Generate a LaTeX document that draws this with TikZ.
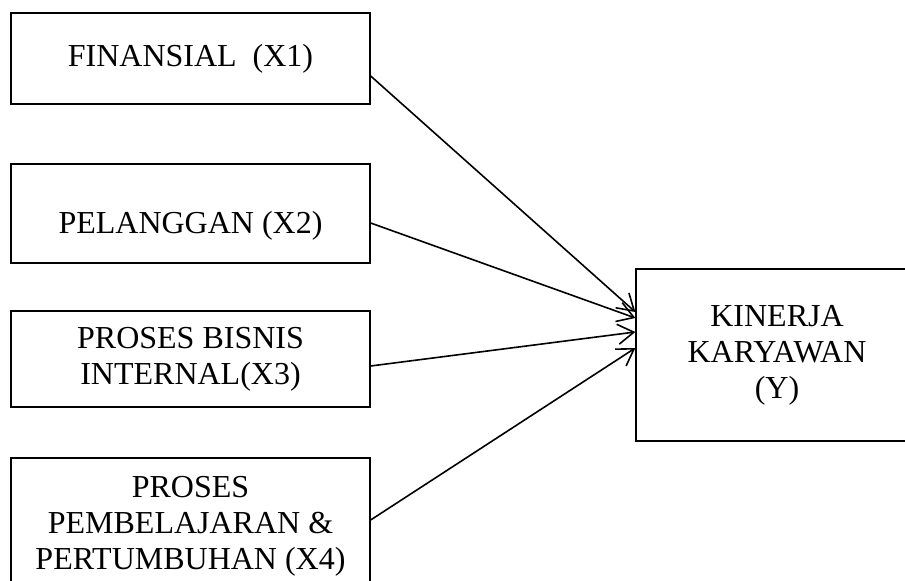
\documentclass[tikz,border=0pt]{standalone}
\usepackage{fontspec}
\setmainfont{Liberation Serif}
\usepackage{tikz}
\usetikzlibrary{arrows.meta, positioning}
\tikzset{
    % Independent variables
    varbox/.style={rectangle, draw=black, line width=1.3pt, fill=white,
                minimum width=359pt, minimum height=#1, align=center,
                inner sep=0pt, font=\fontsize{32}{36}\selectfont},
    % Dependent variable
    ybox/.style={rectangle, draw=black, line width=1.3pt, fill=white,
                minimum width=282pt, minimum height=172pt, align=center,
                inner sep=0pt, font=\fontsize{32}{36}\selectfont},
    % General
    varrow/.style={-{Straight Barb[length=16pt, width=20pt, line width=1.6pt]},
                line width=1.6pt, black},
}
\begin{document}
\begin{tikzpicture}[x=1pt, y=1pt]
\clip (0,0) rectangle (905,581);
\fill[white] (0,0) rectangle (905,581);

\node[varbox=91pt]  (fin) at (190.5,522.5) {FINANSIAL \ (X1)};
\node[varbox=99pt]  (pel) at (190.5,367.5) {\raisebox{-12pt}[\height][\depth]{PELANGGAN (X2)}};
\node[varbox=96pt]  (pro) at (190.5,222)   {PROSES BISNIS\\INTERNAL(X3)};
\node[varbox=136pt] (pem) at (190.5,55)    {PROSES\\PEMBELAJARAN \&\\PERTUMBUHAN (X4)};

\node[ybox] (kin) at (777,226) {KINERJA\\KARYAWAN\\(Y)};

\draw[varrow] ([yshift=-17.5pt]fin.east) -- ([yshift=43pt]kin.west);
\draw[varrow] ([yshift=-9.5pt]pel.east)  -- ([yshift=37pt]kin.west);
\draw[varrow] ([yshift=-7pt]pro.east)    -- ([yshift=23pt]kin.west);
\draw[varrow] ([yshift=6pt]pem.east)     -- ([yshift=7pt]kin.west);
\end{tikzpicture}
\end{document}
